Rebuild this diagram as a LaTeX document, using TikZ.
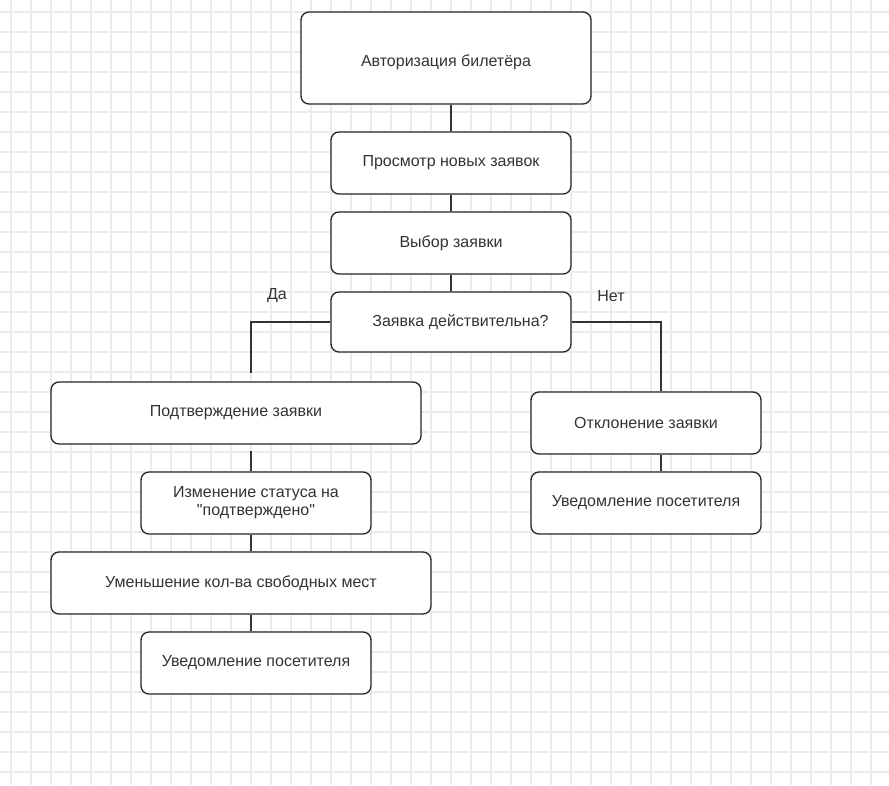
\documentclass[tikz,border=0pt]{standalone}
\usepackage{fontspec}
\setmainfont{Liberation Sans}[Ligatures=TeXOff]
\begin{document}
\begin{tikzpicture}[x=1pt,y=-1pt,
  every node/.style={font=\fontsize{16}{18}\selectfont, text=black!80},
  box/.style={draw=black!85, line width=1.3pt, rounded corners=8pt, fill=white, align=center, inner sep=0pt},
  link/.style={draw=black!80, line width=1.3pt},
  gridline/.style={draw=black!8, line width=1.4pt}]
  % sheet and background grid
  \useasboundingbox (0,0) rectangle (889,785);
  \fill[white] (0,0) rectangle (889,785);
  \foreach \gx in {11,31,...,889} \draw[gridline] (\gx,0) -- (\gx,785);
  \foreach \gy in {12,32,...,785} \draw[gridline] (0,\gy) -- (889,\gy);

  % main column
  \node[box, minimum width=290pt, minimum height=92pt] (auth) at (446,58) {\raisebox{0pt}[\dimexpr\height+8pt\relax]{Авторизация билетёра}};
  \node[box, minimum width=240pt, minimum height=62pt] (view) at (451,163) {Просмотр новых заявок};
  \node[box, minimum width=240pt, minimum height=62pt] (pick) at (451,243) {Выбор заявки};
  \node[box, minimum width=240pt, minimum height=60pt] (check) at (451,322) {\hspace*{19pt}Заявка действительна?};

  % "yes" branch
  \node[box, minimum width=370pt, minimum height=62pt] (confirm) at (236,413) {Подтверждение заявки};
  \node[box, minimum width=230pt, minimum height=62pt] (status) at (256,503) {Изменение статуса на\\"подтверждено"};
  \node[box, minimum width=380pt, minimum height=62pt] (seats) at (241,583) {Уменьшение кол-ва свободных мест};
  \node[box, minimum width=230pt, minimum height=62pt] (notifyA) at (256,663) {Уведомление посетителя};

  % "no" branch
  \node[box, minimum width=230pt, minimum height=62pt] (reject) at (646,423) {Отклонение заявки};
  \node[box, minimum width=230pt, minimum height=62pt] (notifyB) at (646,503) {Уведомление посетителя};

  % branch labels
  \node (yes) at (277,296) {Да};
  \node (no) at (611,296) {Нет};

  % connectors
  \draw[link] (auth.south -| view.north) -- (view.north);
  \draw[link] (view) -- (pick);
  \draw[link] (pick) -- (check);
  \draw[link] (check.west) -| ([yshift=8pt]confirm.north -| 251,0);
  \draw[link] (check.east) -| (reject.north -| 661,0);
  \draw[link, shorten <=6pt] (confirm.south -| 251,0) -- (status.north -| 251,0);
  \draw[link] (status.south -| 251,0) -- (seats.north -| 251,0);
  \draw[link] (seats.south -| 251,0) -- (notifyA.north -| 251,0);
  \draw[link] (reject.south -| 661,0) -- (notifyB.north -| 661,0);
\end{tikzpicture}
\end{document}
